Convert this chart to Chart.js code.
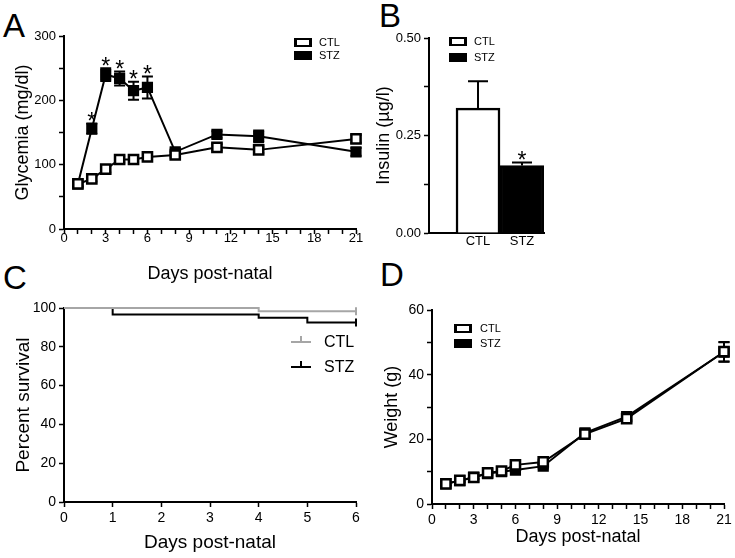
<!DOCTYPE html>
<html>
<head>
<meta charset="utf-8">
<script src="https://cdn.jsdelivr.net/npm/chart.js@4.4.1/dist/chart.umd.min.js"></script>
<style>
  html, body { margin: 0; padding: 0; background: #fff; }
  body { width: 735px; height: 558px; position: relative; overflow: hidden; font-family: 'Liberation Sans', Arial, sans-serif; color: #000; }
  .panel { position: absolute; }
  .letter { position: absolute; font-size: 33px; line-height: 1; }
  .leg { position: absolute; font-size: 11px; line-height: 11px; white-space: nowrap; }
  .box { position: absolute; width: 18px; height: 9px; box-sizing: border-box; border-style: solid; border-color: #000; border-width: 2px 3px; background: #fff; }
  .box.fill { background: #000; }
  .kline { position: absolute; height: 2px; width: 20px; }
  .ktick { position: absolute; width: 2px; height: 6px; }
  .kleg { position: absolute; font-size: 16px; line-height: 16px; }
</style>
</head>
<body>
<div class="letter" style="left:3px;top:9px">A</div>
<div class="letter" style="left:379px;top:-1px">B</div>
<div class="letter" style="left:3px;top:261px">C</div>
<div class="letter" style="left:380px;top:258px">D</div>

<div class="panel" style="left:0;top:0;width:370px;height:290px"><canvas id="chartA"></canvas></div>
<div class="panel" style="left:370px;top:0;width:200px;height:290px"><canvas id="chartB"></canvas></div>
<div class="panel" style="left:0;top:290px;width:380px;height:268px"><canvas id="chartC"></canvas></div>
<div class="panel" style="left:380px;top:270px;width:355px;height:288px"><canvas id="chartD"></canvas></div>

<!-- legends -->
<div class="box" style="left:294px;top:38px"></div><div class="leg" style="left:319px;top:37px">CTL</div>
<div class="box fill" style="left:294px;top:51px"></div><div class="leg" style="left:319px;top:50px">STZ</div>

<div class="box" style="left:449px;top:37px"></div><div class="leg" style="left:474px;top:36px">CTL</div>
<div class="box fill" style="left:449px;top:53px"></div><div class="leg" style="left:474px;top:52px">STZ</div>

<div class="box" style="left:454px;top:324px"></div><div class="leg" style="left:480px;top:323px">CTL</div>
<div class="box fill" style="left:454px;top:339px"></div><div class="leg" style="left:480px;top:338px">STZ</div>

<div class="kline" style="left:291px;top:341px;background:#a6a6a6"></div>
<div class="ktick" style="left:300px;top:336px;background:#a6a6a6"></div>
<div class="kleg" style="left:324px;top:334px">CTL</div>
<div class="kline" style="left:291px;top:366px;background:#000"></div>
<div class="ktick" style="left:300px;top:361px;background:#000"></div>
<div class="kleg" style="left:324px;top:359px">STZ</div>

<script>
const FONT = "'Liberation Sans', Arial, sans-serif";

// A: glycemia
const glyDays = [1, 2, 3, 4, 5, 6, 8, 11, 14, 21];
const glyCtl = [70, 78, 93, 108, 108, 112, 115, 127, 123, 140];
const glyCtlErr = [4, 4, 5, 5, 4, 4, 5, 5, 5, 6];
const glyStz = [70, 156, 240, 234, 215, 220, 120, 147, 144, 120];
const glyStzErr = [4, 8, 10, 11, 14, 17, 5, 5, 9, 6];
const glyStars = [2, 3, 4, 5, 6];

// B: insulin
const groups = ['CTL', 'STZ'];
const insulin = [0.32, 0.173];
const insulinErr = [0.069, 0.008];
const insulinStars = ['STZ'];

// C: survival (Kaplan-Meier steps)
const survCtlDays = [0, 4, 6];
const survCtl = [100, 98.3, 98.3];
const survStzDays = [0, 1, 4, 5, 6];
const survStz = [100, 96.7, 95, 92.5, 92.5];

// D: weight
const wDays = [1, 2, 3, 4, 5, 6, 8, 11, 14, 21];
const wCtl = [6.2, 7.3, 8.2, 9.6, 10.2, 12.1, 13, 21.6, 26.4, 47.1];
const wCtlErr = [0.5, 0.5, 0.5, 0.5, 0.6, 0.6, 0.7, 0.8, 1, 3];
const wStz = [6.3, 7.2, 8.3, 9.4, 10, 10.5, 11.7, 22, 27, 47];
const wStzErr = [0.5, 0.5, 0.5, 0.5, 0.6, 0.6, 0.7, 0.8, 1, 3];

function pts(xs, ys) {
  return xs.map((x, i) => ({ x, y: ys[i] }));
}

function drawErrors(chart, onTop) {
  const { ctx } = chart;
  const yScale = chart.scales.y;
  chart.data.datasets.forEach((ds, i) => {
    if (!ds.errors || !!ds.errorsOnTop !== onTop) return;
    const meta = chart.getDatasetMeta(i);
    ctx.save();
    ctx.strokeStyle = '#000';
    ctx.lineWidth = 2;
    meta.data.forEach((el, j) => {
      const v = ds.data[j].y;
      const err = ds.errors[j];
      const x = el.x;
      const half = ds.errorCap / 2;
      const top = yScale.getPixelForValue(v + err);
      const bottom = yScale.getPixelForValue(ds.errorUpOnly ? v : v - err);
      ctx.beginPath();
      ctx.moveTo(x, top);
      ctx.lineTo(x, bottom);
      ctx.moveTo(x - half, top);
      ctx.lineTo(x + half, top);
      if (!ds.errorUpOnly) {
        ctx.moveTo(x - half, bottom);
        ctx.lineTo(x + half, bottom);
      }
      ctx.stroke();
      if (ds.stars && ds.stars[j]) {
        ctx.fillStyle = '#000';
        ctx.font = `23px ${FONT}`;
        ctx.textAlign = 'center';
        ctx.textBaseline = 'middle';
        ctx.fillText('*', x, top - 1);
      }
    });
    ctx.restore();
  });
}

const errorBars = {
  id: 'errorBars',
  beforeDatasetsDraw(chart) { drawErrors(chart, false); },
  afterDatasetsDraw(chart) { drawErrors(chart, true); },
};

function axis(opts) {
  return {
    type: 'linear',
    min: opts.min,
    max: opts.max,
    offset: false,
    border: { color: '#000', width: 2 },
    grid: { drawOnChartArea: false, color: '#000', tickColor: '#000', tickLength: 5, tickWidth: 1.5 },
    ticks: {
      color: '#000',
      font: { family: FONT, size: opts.tickSize || 13 },
      stepSize: opts.step,
      autoSkip: false,
      maxRotation: 0,
      padding: opts.tickPad == null ? 3 : opts.tickPad,
      callback: opts.label,
    },
    title: {
      display: !!opts.title,
      text: opts.title,
      color: '#000',
      font: { family: FONT, size: opts.titleSize || 18, lineHeight: 1 },
      padding: opts.titlePad,
    },
    afterFit: opts.fit,
  };
}

function baseOptions(padding, scales) {
  return {
    responsive: true,
    maintainAspectRatio: false,
    animation: false,
    events: [],
    layout: { padding },
    plugins: { legend: { display: false }, tooltip: { enabled: false } },
    scales,
  };
}

const every3 = (v) => (v % 3 === 0 ? v : '');

// Panel A
new Chart(document.getElementById('chartA'), {
  type: 'line',
  data: {
    datasets: [
      {
        label: 'CTL',
        data: pts(glyDays, glyCtl),
        errors: glyCtlErr,
        errorCap: 11,
        clip: false,
        borderColor: '#000',
        borderWidth: 2,
        pointStyle: 'rect',
        pointRadius: 6.5,
        pointBorderWidth: 2.5,
        pointBackgroundColor: '#fff',
        pointBorderColor: '#000',
      },
      {
        label: 'STZ',
        data: pts(glyDays, glyStz),
        errors: glyStzErr,
        errorCap: 11,
        clip: false,
        stars: glyDays.map((d) => glyStars.includes(d)),
        borderColor: '#000',
        borderWidth: 2,
        pointStyle: 'rect',
        pointRadius: 6.5,
        pointBorderWidth: 2,
        pointBackgroundColor: '#000',
        pointBorderColor: '#000',
      },
    ],
  },
  options: baseOptions({ left: 0, top: 36, right: 14, bottom: 4 }, {
    x: axis({ min: 0, max: 21, step: 1, tickPad: -3, label: every3, title: 'Days post-natal', titlePad: { top: 0, bottom: 3 }, fit: (s) => { s.height = 57; } }),
    y: axis({ min: 0, max: 300, step: 50, label: (v) => (v % 100 === 0 ? v : ''), title: 'Glycemia (mg/dl)', titlePad: { top: 14, bottom: 0 }, fit: (s) => { s.width = 64; } }),
  }),
  plugins: [errorBars],
});

// Panel B
const xB = axis({ min: -1.114, max: 1.5, step: 1, tickPad: 1, label: (v) => groups[v] || '', fit: (s) => { s.height = 25; } });
xB.grid = { display: false, drawTicks: false };
xB.afterBuildTicks = (s) => { s.ticks = groups.map((g, i) => ({ value: i })); };

new Chart(document.getElementById('chartB'), {
  type: 'bar',
  data: {
    datasets: [
      {
        label: 'Insulin',
        data: pts(groups.map((g, i) => i), insulin),
        errors: insulinErr,
        errorCap: 20,
        errorUpOnly: true,
        errorsOnTop: true,
        stars: groups.map((g) => insulinStars.includes(g)),
        backgroundColor: ['#fff', '#000'],
        borderColor: '#000',
        borderWidth: 2.5,
        barThickness: 44,
      },
    ],
  },
  options: baseOptions({ left: 0, top: 38, right: 26, bottom: 32 }, {
    x: xB,
    y: axis({ min: 0, max: 0.5, step: 0.125, label: (v) => (Math.abs(v * 4 - Math.round(v * 4)) < 1e-6 ? v.toFixed(2) : ''), title: 'Insulin (\u00b5g/l)', titlePad: { top: 5, bottom: 0 }, fit: (s) => { s.width = 59; } }),
  }),
  plugins: [errorBars],
});

// Panel C
new Chart(document.getElementById('chartC'), {
  type: 'line',
  data: {
    datasets: [
      {
        label: 'CTL',
        data: pts(survCtlDays, survCtl),
        stepped: 'before',
        clip: false,
        borderColor: '#a6a6a6',
        borderWidth: 2,
        pointStyle: 'line',
        rotation: 90,
        pointRadius: survCtl.map((v, i, a) => (i === a.length - 1 ? 4 : 0)),
        pointBorderColor: '#a6a6a6',
        pointBorderWidth: 2,
      },
      {
        label: 'STZ',
        data: pts(survStzDays, survStz),
        stepped: 'before',
        clip: false,
        borderColor: '#000',
        borderWidth: 2,
        pointStyle: 'line',
        rotation: 90,
        pointRadius: survStz.map((v, i, a) => (i === a.length - 1 ? 4 : 0)),
        pointBorderColor: '#000',
        pointBorderWidth: 2,
      },
    ],
  },
  options: baseOptions({ left: 0, top: 18, right: 24, bottom: 4 }, {
    x: axis({ min: 0, max: 6, step: 1, tickSize: 14, label: (v) => v, title: 'Days post-natal', titleSize: 19, titlePad: { top: 0, bottom: 2 }, fit: (s) => { s.height = 52; } }),
    y: axis({ min: 0, max: 100, step: 20, tickSize: 14, label: (v) => v, title: 'Percent survival', titleSize: 19, titlePad: { top: 14, bottom: 0 }, fit: (s) => { s.width = 64; } }),
  }),
});

// Panel D
new Chart(document.getElementById('chartD'), {
  type: 'line',
  data: {
    datasets: [
      {
        label: 'CTL',
        data: pts(wDays, wCtl),
        errors: wCtlErr,
        errorCap: 11,
        clip: false,
        borderColor: '#000',
        borderWidth: 2,
        pointStyle: 'rect',
        pointRadius: 6.5,
        pointBorderWidth: 2.5,
        pointBackgroundColor: '#fff',
        pointBorderColor: '#000',
      },
      {
        label: 'STZ',
        data: pts(wDays, wStz),
        errors: wStzErr,
        errorCap: 11,
        clip: false,
        borderColor: '#000',
        borderWidth: 2,
        pointStyle: 'rect',
        pointRadius: 6.5,
        pointBorderWidth: 2,
        pointBackgroundColor: '#000',
        pointBorderColor: '#000',
      },
    ],
  },
  options: baseOptions({ left: 0, top: 40, right: 11, bottom: 4 }, {
    x: axis({ min: 0, max: 21, step: 1, tickSize: 14, label: every3, title: 'Days post-natal', titlePad: { top: 0, bottom: 8 }, fit: (s) => { s.height = 50; } }),
    y: axis({ min: 0, max: 60, step: 10, tickSize: 14, label: (v) => (v % 20 === 0 ? v : ''), title: 'Weight (g)', titlePad: { top: 3, bottom: 0 }, fit: (s) => { s.width = 52; } }),
  }),
  plugins: [errorBars],
});
</script>
</body>
</html>
